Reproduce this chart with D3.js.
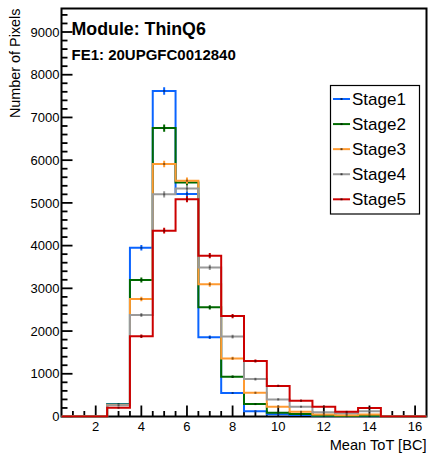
<!DOCTYPE html>
<html>
<head>
<meta charset="utf-8">
<script src="https://cdn.jsdelivr.net/npm/d3@7"></script>
<style>
  html, body { margin: 0; padding: 0; background: #fff; }
  svg { display: block; font-family: "Liberation Sans", Arial, Helvetica, sans-serif; }
</style>
</head>
<body>
<svg id="chart" width="428" height="454"></svg>
<script>
// ---- data ----
const binCenters = [1, 2, 3, 4, 5, 6, 7, 8, 9, 10, 11, 12, 13, 14, 15, 16];
const stage1 = [0, 0, 286, 3950, 7620, 5210, 1855, 550, 125, 55, 35, 8, 4, 5, 0, 0];
const stage2 = [0, 0, 278, 3195, 6750, 5475, 2555, 930, 290, 90, 60, 20, 12, 15, 0, 0];
const stage3 = [0, 0, 270, 2750, 5910, 5520, 3095, 1360, 555, 228, 112, 47, 32, 45, 0, 0];
const stage4 = [0, 0, 262, 2376, 5200, 5335, 3490, 1870, 875, 400, 230, 98, 75, 120, 0, 0];
const stage5 = [0, 0, 206, 1878, 4350, 5085, 3765, 2350, 1300, 715, 370, 230, 110, 200, 0, 0];
const seriesNames = ["Stage1", "Stage2", "Stage3", "Stage4", "Stage5"];
const seriesColors = ["#0a64ff", "#006a00", "#ff9a30", "#9a9a9a", "#cc0000"];
const xTickLabels = [2, 4, 6, 8, 10, 12, 14, 16];
const yTickLabels = [0, 1000, 2000, 3000, 4000, 5000, 6000, 7000, 8000, 9000];
const titleText = "Module: ThinQ6";
const subtitleText = "FE1: 20UPGFC0012840";
const xTitle = "Mean ToT [BC]";
const yTitle = "Number of Pixels";

const allSeries = [stage1, stage2, stage3, stage4, stage5];

// ---- layout ----
const frame = { left: 61.5, right: 426.5, top: 8.5, bottom: 416.5 };
const binWidth = 1;
const x = d3.scaleLinear().domain([0.5, 16.5]).range([frame.left, frame.right]);
const y = d3.scaleLinear().domain([0, 9550]).range([frame.bottom, frame.top]);

const svg = d3.select("#chart");

svg.append("defs").append("clipPath").attr("id", "clip")
  .append("rect")
  .attr("x", frame.left).attr("y", frame.top - 1)
  .attr("width", frame.right - frame.left).attr("height", frame.bottom - frame.top + 2);

const line = d3.line().x(d => x(d[0])).y(d => y(d[1]));

function stepPoints(vals) {
  const pts = [];
  vals.forEach((v, i) => {
    const c = binCenters[i];
    pts.push([c - binWidth / 2, v]);
    pts.push([c + binWidth / 2, v]);
  });
  return pts;
}

// ---- axes (ROOT-style ticks inside the frame) ----
const axG = svg.append("g");
const yMinor = d3.range(0, 9550, 200);
axG.selectAll(".ytick").data(yMinor).enter().append("line")
  .attr("x1", frame.left)
  .attr("x2", d => frame.left + (d % 1000 === 0 ? 11 : 6))
  .attr("y1", d => y(d)).attr("y2", d => y(d))
  .attr("stroke", "#000").attr("stroke-width", 1.8);
axG.selectAll(".ylab").data(yTickLabels).enter().append("text")
  .attr("x", frame.left - 2)
  .attr("y", d => y(d))
  .attr("dy", "0.36em")
  .attr("text-anchor", "end")
  .attr("font-size", 13)
  .attr("fill", "#000")
  .text(d => d);

const xMinor = d3.range(1, 16.5, 0.5);
axG.selectAll(".xtick").data(xMinor).enter().append("line")
  .attr("x1", d => x(d)).attr("x2", d => x(d))
  .attr("y1", frame.bottom)
  .attr("y2", d => frame.bottom - (d % 2 === 0 ? 11 : 5.5))
  .attr("stroke", "#000").attr("stroke-width", 1.8);
axG.selectAll(".xlab").data(xTickLabels).enter().append("text")
  .attr("x", d => x(d))
  .attr("y", 431)
  .attr("text-anchor", "middle")
  .attr("font-size", 13)
  .attr("fill", "#000")
  .text(d => d);

svg.append("rect")
  .attr("x", frame.left).attr("y", frame.top)
  .attr("width", frame.right - frame.left).attr("height", frame.bottom - frame.top)
  .attr("fill", "none").attr("stroke", "#000").attr("stroke-width", 2);

// histograms drawn on top of the frame like ROOT
const histG = svg.append("g").attr("clip-path", "url(#clip)");
allSeries.forEach((vals, si) => {
  const g = histG.append("g");
  g.append("path")
    .attr("d", line(stepPoints(vals)))
    .attr("fill", "none")
    .attr("stroke", seriesColors[si])
    .attr("stroke-width", 2);
  vals.forEach((v, i) => {
    if (v <= 0) return;
    const c = binCenters[i];
    const e = Math.sqrt(v);
    g.append("line")
      .attr("x1", x(c)).attr("x2", x(c))
      .attr("y1", y(v - e)).attr("y2", y(v + e))
      .attr("stroke", seriesColors[si]).attr("stroke-width", 2);
    g.append("rect")
      .attr("x", x(c) - 1).attr("y", y(v) - 1)
      .attr("width", 2).attr("height", 2)
      .attr("fill", "#000").attr("opacity", 0.45);
  });
});

// axis titles
svg.append("text")
  .attr("transform", `translate(19.5, ${frame.top}) rotate(-90)`)
  .attr("text-anchor", "end")
  .attr("font-size", 14.4)
  .attr("fill", "#000")
  .text(yTitle);
svg.append("text")
  .attr("x", frame.right)
  .attr("y", 449.5)
  .attr("text-anchor", "end")
  .attr("font-size", 14.6)
  .attr("fill", "#000")
  .text(xTitle);

// titles
svg.append("text")
  .attr("x", 71.5).attr("y", 35)
  .attr("font-size", 17.8).attr("font-weight", "bold")
  .attr("fill", "#000")
  .text(titleText);
svg.append("text")
  .attr("x", 71.5).attr("y", 60)
  .attr("font-size", 15).attr("font-weight", "bold")
  .attr("fill", "#000")
  .text(subtitleText);

// legend
const leg = svg.append("g");
leg.append("rect")
  .attr("x", 330.5).attr("y", 85.5)
  .attr("width", 89).attr("height", 128.5)
  .attr("fill", "#fff").attr("stroke", "#000").attr("stroke-width", 1.2);
const legY = d3.scaleLinear().domain([0, 4]).range([99, 199.3]);
seriesNames.forEach((name, i) => {
  const yy = legY(i);
  leg.append("line")
    .attr("x1", 333).attr("x2", 350)
    .attr("y1", yy).attr("y2", yy)
    .attr("stroke", seriesColors[i]).attr("stroke-width", 2);
  leg.append("rect")
    .attr("x", 340.5).attr("y", yy - 1).attr("width", 2).attr("height", 2)
    .attr("fill", "#000").attr("opacity", 0.6);
  leg.append("text")
    .attr("x", 352).attr("y", yy)
    .attr("dy", "0.36em")
    .attr("font-size", 17)
    .attr("fill", "#000")
    .text(name);
});
</script>
</body>
</html>
